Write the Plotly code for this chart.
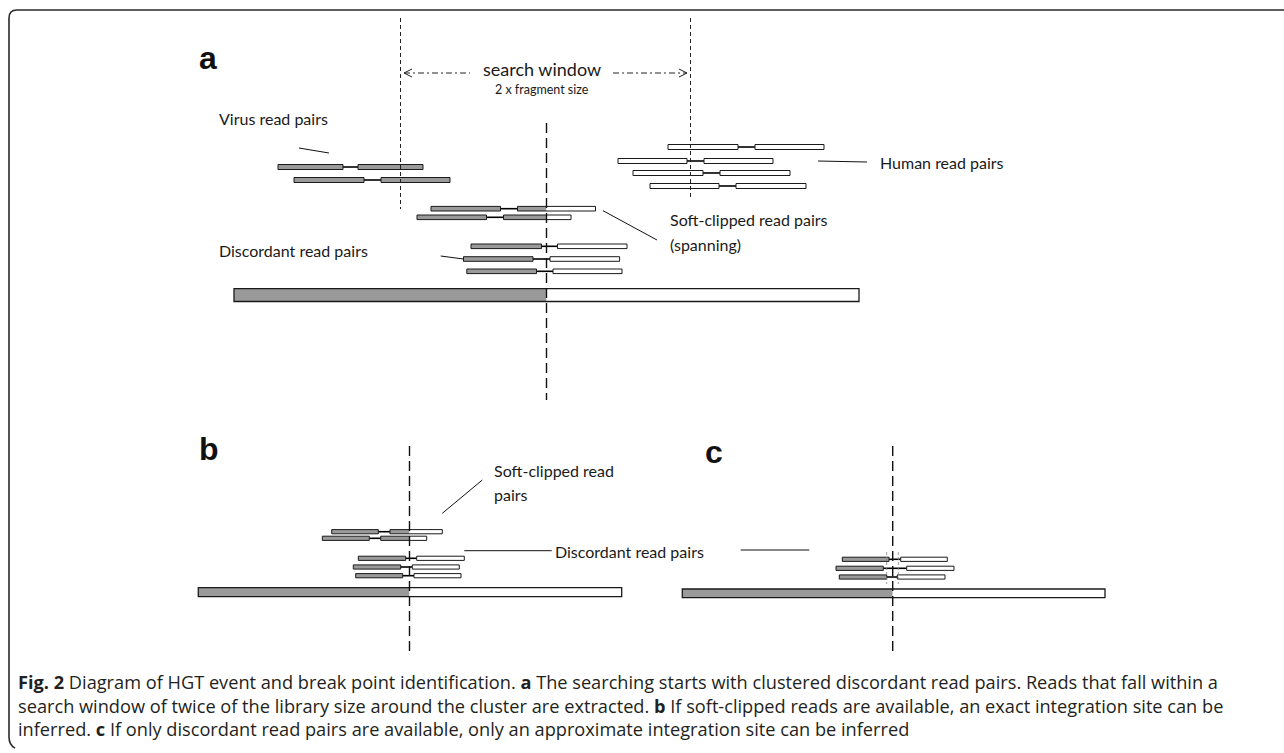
import plotly.graph_objects as go

# ---------------- data (diagram geometry, pixel units) ----------------
# each read pair: (y, left_start, left_end, right_start, right_end)
virus_pairs = [(167, 278, 343, 358, 423), (180, 294, 364, 381, 450)]
human_pairs = [(147, 668, 738, 755, 824), (161, 618, 687, 704, 773),
               (173, 633, 703, 720, 790), (186, 650, 719, 736, 806)]
a_soft_pairs = [(208.7, 431, 500.5, 517.5, 595.5), (217.3, 417, 486.5, 503.5, 571)]
a_disc_pairs = [(246.3, 471, 541.5, 557.5, 627), (259, 463.5, 533, 550, 619.6),
                (271.3, 466.8, 536.5, 553, 622)]
b_soft_pairs = [(531.7, 331.7, 378.3, 390, 442.3), (538.3, 322.3, 369.3, 380.7, 426.7)]
b_disc_pairs = [(558.3, 358.3, 405.7, 416.7, 464.3), (567, 353.3, 400.7, 412.3, 459.3),
                (575.7, 355.7, 402.7, 414, 461)]
c_disc_pairs = [(559.3, 842.3, 889, 900.7, 947.3), (568.3, 836, 883.3, 906.7, 954),
                (577, 839.3, 886.7, 897.3, 945)]

# reference bars: (x0, x1, y0, y1, breakpoint)
ref_bars = [(234, 859, 288.7, 301.5, 546.5), (198.3, 621.7, 587.7, 596.7, 409.5),
            (682.3, 1105, 589, 597.7, 892.7)]

# dashed vertical lines: (x, y0, y1, style)
vlines = [(400.5, 18, 209, "win"), (690.5, 18, 199, "win"), (546.5, 123, 400, "bp"),
          (409.5, 446, 655, "bp"), (892.7, 446, 655, "bp"),
          (886.7, 552, 584, "dot"), (898.3, 552, 584, "dot")]

# leader lines: (x0, y0, x1, y1)
leaders = [(299, 148, 329, 153), (818, 161, 867, 162), (603, 210.7, 657, 240),
           (440.7, 256, 463.5, 259), (442.3, 513.3, 482.3, 480),
           (464.3, 550.7, 551.7, 550.7), (740.7, 550, 809.3, 550)]

# text labels: (text, x, y, anchor, size)
labels = [("search window", 542, 69, "center", 18),
          ("2 x fragment size", 542, 89, "center", 12.5),
          ("Virus read pairs", 217, 118, "left", 16),
          ("Human read pairs", 878, 162, "left", 16),
          ("Soft-clipped read pairs", 668, 219, "left", 16),
          ("(spanning)", 668, 244, "left", 16),
          ("Discordant read pairs", 217, 250, "left", 16),
          ("Soft-clipped read", 492, 470, "left", 16),
          ("pairs", 492, 494, "left", 16),
          ("Discordant read pairs", 553, 551, "left", 16)]

panel_letters = [("a", 208, 58), ("b", 209, 449), ("c", 713.5, 452)]

caption_lines = [
    "<b>Fig. 2</b> Diagram of HGT event and break point identification. <b>a</b> The searching starts with clustered discordant read pairs. Reads that fall within a",
    "search window of twice of the library size around the cluster are extracted. <b>b</b> If soft-clipped reads are available, an exact integration site can be",
    "inferred. <b>c</b> If only discordant read pairs are available, only an approximate integration site can be inferred",
]
caption_center_y = 705

GRAY = "#9a9a9a"
WHITE = "#ffffff"

shapes = []


def rect(x0, x1, y0, y1, fill, line=True, lw=1):
    shapes.append(dict(type="rect", xref="x", yref="y", x0=x0, x1=x1, y0=y0, y1=y1,
                       fillcolor=fill,
                       line=dict(color="#1a1a1a", width=lw) if line else dict(width=0),
                       layer="below"))


def read(x0, x1, yc, h, bp):
    y0, y1 = yc - h / 2, yc + h / 2
    if x1 <= bp:
        rect(x0, x1, y0, y1, GRAY)
    elif x0 >= bp:
        rect(x0, x1, y0, y1, WHITE)
    else:
        rect(x0, bp, y0, y1, GRAY, line=False)
        rect(bp, x1, y0, y1, WHITE, line=False)
        rect(x0, x1, y0, y1, "rgba(0,0,0,0)")


def pairs(lst, bp, h):
    for (y, l0, l1, r0, r1) in lst:
        shapes.append(dict(type="line", xref="x", yref="y", x0=l1, x1=r0, y0=y, y1=y,
                           line=dict(color="#000", width=1.6), layer="below"))
        read(l0, l1, y, h, bp)
        read(r0, r1, y, h, bp)


pairs(virus_pairs, 10000, 5)
pairs(human_pairs, -10000, 5)
pairs(a_soft_pairs, ref_bars[0][4], 4.6)
pairs(a_disc_pairs, ref_bars[0][4], 4.6)
pairs(b_soft_pairs, ref_bars[1][4], 4.2)
pairs(b_disc_pairs, ref_bars[1][4], 4.2)
pairs(c_disc_pairs, ref_bars[2][4], 4.2)

for (x0, x1, y0, y1, bp) in ref_bars:
    rect(x0, bp, y0, y1, GRAY, line=False)
    rect(bp, x1, y0, y1, WHITE, line=False)
    rect(x0, x1, y0, y1, "rgba(0,0,0,0)", lw=1.3)

for (x, y0, y1, st) in vlines:
    if st == "win":
        ln = dict(color="#222", width=1, dash="4px,3px")
    elif st == "bp":
        ln = dict(color="#111", width=1.4, dash="10px,5px")
    else:
        ln = dict(color="#888", width=0.8, dash="3px,2px")
    shapes.append(dict(type="line", xref="x", yref="y", x0=x, x1=x, y0=y0, y1=y1, line=ln))

for (x0, y0, x1, y1) in leaders:
    shapes.append(dict(type="line", xref="x", yref="y", x0=x0, x1=x1, y0=y0, y1=y1,
                       line=dict(color="#111", width=1)))

# search window arrow (dash-dot with open heads)
arrow_y = 73
arrow_segments = [(404, 470), (613, 687)]
for (x0, x1) in arrow_segments:
    shapes.append(dict(type="line", xref="x", yref="y", x0=x0, x1=x1, y0=arrow_y, y1=arrow_y,
                       line=dict(color="#222", width=1, dash="6px,3px,2px,3px")))
shapes.append(dict(type="path", xref="x", yref="y",
                   path=f"M {arrow_segments[0][0]+8},{arrow_y-4} L {arrow_segments[0][0]},{arrow_y} L {arrow_segments[0][0]+8},{arrow_y+4}",
                   line=dict(color="#222", width=1)))
shapes.append(dict(type="path", xref="x", yref="y",
                   path=f"M {arrow_segments[1][1]-8},{arrow_y-4} L {arrow_segments[1][1]},{arrow_y} L {arrow_segments[1][1]-8},{arrow_y+4}",
                   line=dict(color="#222", width=1)))

# outer rounded frame
shapes.append(dict(type="path", xref="x", yref="y",
                   path="M 1290,10 L 17,10 Q 9,10 9,18 L 9,737 Q 9,745 15,748",
                   line=dict(color="#2a2a2a", width=1.6)))

annotations = []
for (t, x, y, anc, sz) in labels:
    annotations.append(dict(text=t, x=x, y=y, xref="x", yref="y", xanchor=anc, yanchor="middle",
                            showarrow=False, font=dict(family="Lato", size=sz, color="#1a1a1a")))
for (t, x, y) in panel_letters:
    annotations.append(dict(text=f"<b>{t}</b>", x=x, y=y, xref="x", yref="y", xanchor="center",
                            yanchor="middle", showarrow=False,
                            font=dict(family="Liberation Sans", size=32, color="#111")))
annotations.append(dict(text="<br>".join(caption_lines), x=16, y=caption_center_y, xref="x", yref="y",
                        xanchor="left", yanchor="middle", align="left", showarrow=False,
                        font=dict(family="Open Sans", size=18.2, color="#231f20")))

fig = go.Figure()
fig.update_layout(
    width=1284, height=753, margin=dict(l=0, r=0, t=0, b=0),
    paper_bgcolor="white", plot_bgcolor="white",
    xaxis=dict(range=[0, 1284], visible=False, fixedrange=True),
    yaxis=dict(range=[753, 0], visible=False, fixedrange=True),
    shapes=shapes, annotations=annotations, showlegend=False,
)
fig.write_html("out.html", config={"displayModeBar": False},
               post_script="document.body.style.margin='0';document.body.style.padding='0';document.body.style.overflow='hidden';")
